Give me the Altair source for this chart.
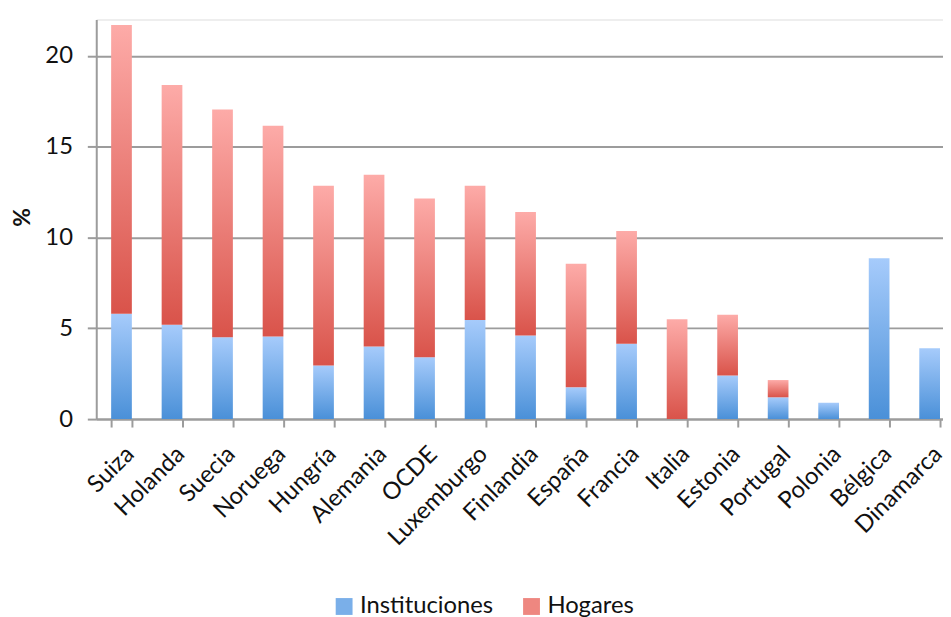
import altair as alt
import pandas as pd

paises = ["Suiza", "Holanda", "Suecia", "Noruega", "Hungría", "Alemania", "OCDE",
          "Luxemburgo", "Finlandia", "España", "Francia", "Italia", "Estonia",
          "Portugal", "Polonia", "Bélgica", "Dinamarca"]
instituciones = [5.8, 5.2, 4.5, 4.55, 2.95, 4.0, 3.4, 5.45, 4.6, 1.75, 4.15, 0.0, 2.4, 1.2, 0.9, 8.85, 3.9]
hogares = [15.9, 13.2, 12.55, 11.6, 9.9, 9.45, 8.75, 7.4, 6.8, 6.8, 6.2, 5.5, 3.35, 0.95, 0.0, 0.0, 0.0]
series = ["Instituciones", "Hogares"]
colores = ["#7aafe9", "#ee8780"]
y_ticks = [0, 5, 10, 15, 20]

df = pd.DataFrame({"pais": paises, "Instituciones": instituciones, "Hogares": hogares})

FONT = "Lato"
GRAY = "#9c9c9c"

blue_grad = alt.Gradient(
    gradient="linear",
    stops=[alt.GradientStop(color="#4a90d8", offset=0), alt.GradientStop(color="#a6cbfb", offset=1)],
    x1=0, x2=0, y1=1, y2=0,
)
red_grad = alt.Gradient(
    gradient="linear",
    stops=[alt.GradientStop(color="#d9534a", offset=0), alt.GradientStop(color="#fdaba8", offset=1)],
    x1=0, x2=0, y1=1, y2=0,
)

xenc = alt.X(
    "pais:N", sort=paises, title=None,
    scale=alt.Scale(paddingInner=0.59, paddingOuter=0.295),
    axis=alt.Axis(labelAngle=-45, tickBand="extent", tickSize=8, tickWidth=2,
                  tickColor=GRAY, domainColor=GRAY, domainWidth=2,
                  labelFontSize=24, labelFont=FONT, labelColor="#111111",
                  labelPadding=15, grid=False),
)
yscale = alt.Scale(domain=[0, 22], nice=False)
yaxis = alt.Axis(values=y_ticks, title="%", titleFontSize=23, titleFont=FONT,
                 titleFontWeight="bold", titleColor="#111111",
                 titleAngle=270, titleX=-74, titleY=199, titleAlign="center", titleBaseline="middle",
                 labelFontSize=24, labelFont=FONT, labelColor="#111111", labelPadding=15,
                 tickSize=9, tickWidth=2, tickColor=GRAY, domainColor=GRAY, domainWidth=2,
                 grid=True, gridColor=GRAY, gridWidth=2)

base = alt.Chart(df)

inst = base.mark_bar(color=blue_grad).encode(
    x=xenc,
    y=alt.Y("Instituciones:Q", scale=yscale, axis=yaxis),
)

hog = base.transform_calculate(total="datum.Instituciones + datum.Hogares").mark_bar(color=red_grad).encode(
    x=xenc,
    y=alt.Y("total:Q", scale=yscale, axis=yaxis),
    y2="Instituciones:Q",
)

leg = base.transform_fold(series, as_=["serie", "valor"]).mark_square(opacity=0).encode(
    x=xenc,
    y=alt.Y("valor:Q", scale=yscale, axis=yaxis),
    color=alt.Color("serie:N", scale=alt.Scale(domain=series, range=colores),
                    legend=alt.Legend(title=None, orient="none", legendX=238, legendY=580,
                                      direction="horizontal", symbolType="square", symbolSize=289,
                                      symbolOpacity=1, symbolStrokeWidth=0,
                                      labelFontSize=24, labelFont=FONT, labelColor="#111111",
                                      labelOffset=4, columnPadding=26)),
)

chart = alt.layer(inst, hog, leg).properties(
    width=866, height=403,
    autosize=alt.AutoSizeParams(type="none"),
    padding={"left": 89, "top": 9, "right": -12, "bottom": 200},
).configure_view(stroke=None).configure(background="white")

chart.save("out.html", embed_options={"renderer": "svg", "actions": False})
